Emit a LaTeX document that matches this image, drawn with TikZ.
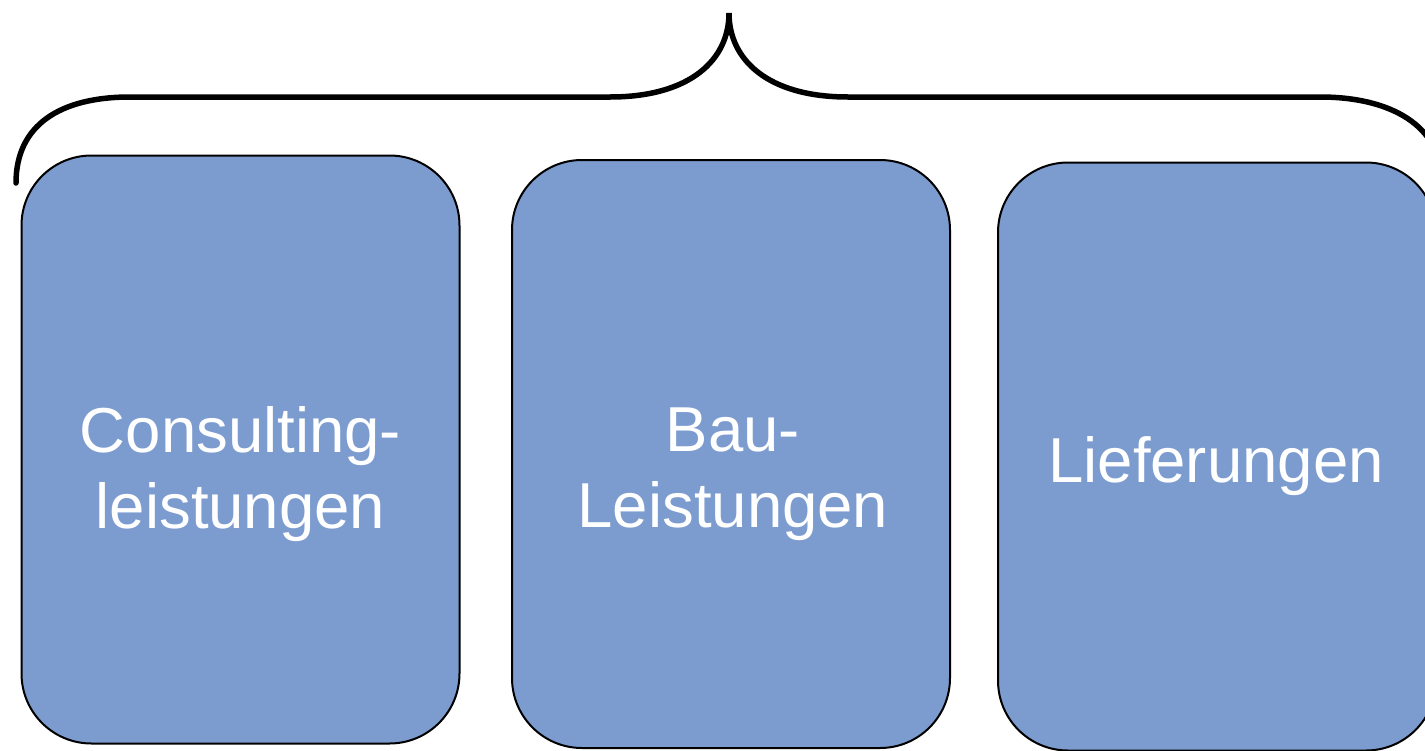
\documentclass[tikz,border=0pt]{standalone}
\usepackage{fontspec}
\setmainfont{Liberation Sans}
\definecolor{boxblue}{RGB}{124,156,208}
\begin{document}
\begin{tikzpicture}[x=1pt,y=-1pt,
  card/.style={draw=black,line width=2pt,fill=boxblue,rounded corners=70pt,
    minimum width=438pt,minimum height=588pt,inner sep=0pt},
  cardtext/.style={text=white,align=center,inner sep=0pt,
    font=\fontsize{63.5}{76}\selectfont},
  brace/.style={draw=black,line width=5.5pt,line cap=round}]
\useasboundingbox (0,0) rectangle (1425,750);
\clip (0,0) rectangle (1425,750);
\node[card] (b1) at (240.5,449.5) {};
\node[card] (b2) at (731,454) {};
\node[card] (b3) at (1217,456.5) {};
\node[cardtext] (t1) at (240.5,474) {Consulting-\\leistungen};
\node[cardtext] (t2) at (733,474) {Bau-\\Leistungen};
\node[cardtext] (t3) at (1216,466) {Lieferungen};
\coordinate (bl) at (16,183);
\coordinate (tip) at (729,13);
\coordinate (br) at (1442,183);
\draw[brace] (bl) .. controls (16,125) and (60,97) .. (130,97)
  -- (610,97) .. controls (690,97) and (729,60) .. (tip)
  .. controls (729,60) and (768,97) .. (848,97)
  -- (1320,97) .. controls (1390,97) and (1442,125) .. (br);
\end{tikzpicture}
\end{document}
